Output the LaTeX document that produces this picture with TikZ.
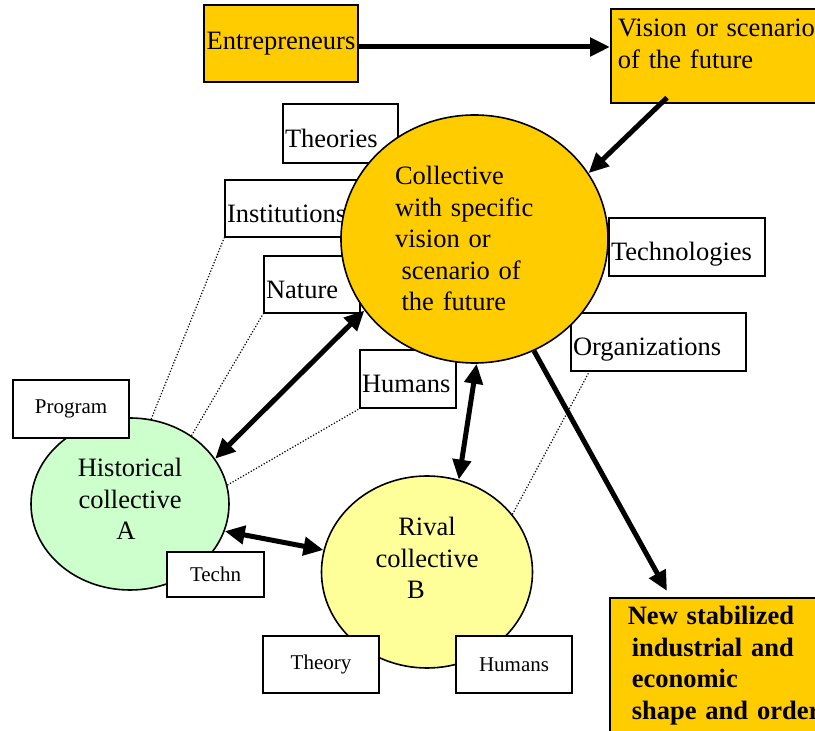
\documentclass[tikz,border=0pt]{standalone}
\usepackage{fontspec}
\setmainfont{Liberation Serif}
\usetikzlibrary{calc}
\usetikzlibrary{shapes.geometric}
\usetikzlibrary{arrows.meta}
\definecolor{cOrange}{RGB}{255, 204, 0}
\definecolor{cGreen}{RGB}{204, 255, 204}
\definecolor{cYellow}{RGB}{255, 255, 153}
\newcommand{\fontMain}{\fontsize{13.25}{15.75}\selectfont}
\newcommand{\fontSmall}{\fontsize{10.5}{12.5}\selectfont}
\tikzset{
    nodeBox/.style={
        draw,
        fill=white,
        line width=0.85pt,
        inner xsep=1pt,
        inner ysep=0pt,
        align=left,
        text height=14pt,
        text depth=0pt,
        font=\fontMain
    },
    nodeSmall/.style={
        draw,
        fill=white,
        line width=0.85pt,
        inner sep=0pt,
        align=center,
        font=\fontSmall
    },
    nodeOrange/.style={
        draw,
        fill=cOrange,
        line width=0.85pt,
        font=\fontMain
    },
    nodeCollective/.style={
        draw,
        shape=ellipse,
        line width=0.8pt,
        inner sep=0pt,
        text height=9.5pt,
        font=\fontMain
    },
    edgeThick/.style={
        line width=2.5pt,
        arrows=-{Triangle[length=10pt,width=9pt]}
    },
    edgeBoth/.style={
        line width=2.5pt,
        arrows={Triangle[length=10pt,width=9pt]}-{Triangle[length=10pt,width=9pt]}
    },
    edgeDotted/.style={
        line width=0.6pt,
        dash pattern=on 0.6pt off 0.9pt
    },
}

\begin{document}
\begin{tikzpicture}[x=0.5pt,y=-0.5pt]
    \useasboundingbox (0,0) rectangle (815,731);

    \pgfdeclarelayer{background}
    \pgfdeclarelayer{foreground}
    \pgfsetlayers{background,main,foreground}

    \begin{pgfonlayer}{main}
        \node[nodeCollective,fill=cOrange,minimum width=133.5pt,minimum height=124pt,text width=79.5pt,align=left,text depth=63.5pt] (cCollective) at (474.5,239)
            {Collective\\with specific\\vision or\\\hspace*{3.3pt}scenario of\\\hspace*{3.3pt}the future};
        \node[nodeCollective,fill=cGreen,minimum width=97pt,minimum height=86pt,text width=70pt,align=center,text depth=36.5pt] (cHistA) at (130,504)
            {Historical\\collective\\\hspace*{-4pt}A};
        \node[nodeCollective,fill=cYellow,minimum width=105.5pt,minimum height=96pt,text width=70pt,align=center,text depth=45.5pt] (cRivalB) at (427,572)
            {Rival\\collective\\\hspace*{-11pt}B};

        \node[nodeOrange,minimum width=77pt,minimum height=38.5pt,inner sep=1pt] (nEntrepreneurs) at (281,43.5) {Entrepreneurs};
        \node[nodeOrange,anchor=north west,inner xsep=3.5pt,inner ysep=3pt,text width=103pt,align=left,text height=11pt,text depth=30pt] (nVision) at (610,8)
            {Vision or scenario\\of the future};
        \node[nodeOrange,anchor=north west,inner xsep=9pt,inner ysep=3pt,text width=100pt,align=left,text height=10.5pt,text depth=64.5pt,font=\fontMain\bfseries] (nNewOrder) at (609,597)
            {New stabilized\\\hspace*{2pt}industrial and\\\hspace*{2pt}economic\\\hspace*{2pt}shape and order};
    \end{pgfonlayer}

    \begin{pgfonlayer}{background}
        \node[nodeBox,minimum height=29.5pt,text width=55.5pt] (nTheories) at (340.5,133.5) {Theories};
        \node[nodeBox,minimum height=28.5pt,text width=68pt] (nInstitutions) at (295,208.5) {Institutions};
        \node[nodeBox,minimum height=28.5pt,text width=46pt] (nNature) at (312,284.5) {Nature};
        \node[nodeBox,minimum height=29pt,text width=46pt] (nHumans) at (408,379) {Humans};
        \node[nodeBox,minimum height=29pt,text width=76pt] (nTechnologies) at (687,247) {Technologies};
        \node[nodeBox,minimum height=29pt,text width=85.5pt] (nOrganizations) at (658.5,342) {Organizations};

        \draw[edgeDotted] (cHistA.76) -- (nInstitutions.south west);
        \draw[edgeDotted] (cHistA.48) -- (nNature.south west);
        \draw[edgeDotted] (cHistA.11) -- (nHumans.south west);
        \draw[edgeDotted] (cRivalB.34) -- ($(nOrganizations.south west)+(19,0)$);
    \end{pgfonlayer}

    \begin{pgfonlayer}{foreground}
        \node[nodeSmall,minimum width=58pt,minimum height=29pt] (nProgram) at (71,409) {Program};
        \node[nodeSmall,minimum width=48.5pt,minimum height=22.5pt] (nTechn) at (215.5,574.5) {Techn};
        \node[nodeSmall,minimum width=58pt,minimum height=28.5pt] (nTheory) at (321,664.5) {Theory};
        \node[nodeSmall,minimum width=58pt,minimum height=28.5pt] (nHumansB) at (514,664.5) {Humans};

        \coordinate (pEntreOut) at ([yshift=-1.75pt]nEntrepreneurs.east);
        \coordinate (pVisionOut) at ($(nVision.south west)+(57,-6)$);
        \coordinate (pNewIn) at ($(nNewOrder.north west)+(58,-6)$);

        \draw[edgeThick] (pEntreOut) -- (pEntreOut -| nVision.west);
        \draw[edgeThick] (pVisionOut) -- (cCollective.30);
        \draw[edgeThick] (cCollective.298) -- (pNewIn);

        \draw[edgeBoth] (cHistA.28) -- (cCollective.213);
        \draw[edgeBoth] (cRivalB.71) -- (cCollective.271);
        \draw[edgeBoth] (cHistA.344) -- (cRivalB.168);
    \end{pgfonlayer}
\end{tikzpicture}
\end{document}
